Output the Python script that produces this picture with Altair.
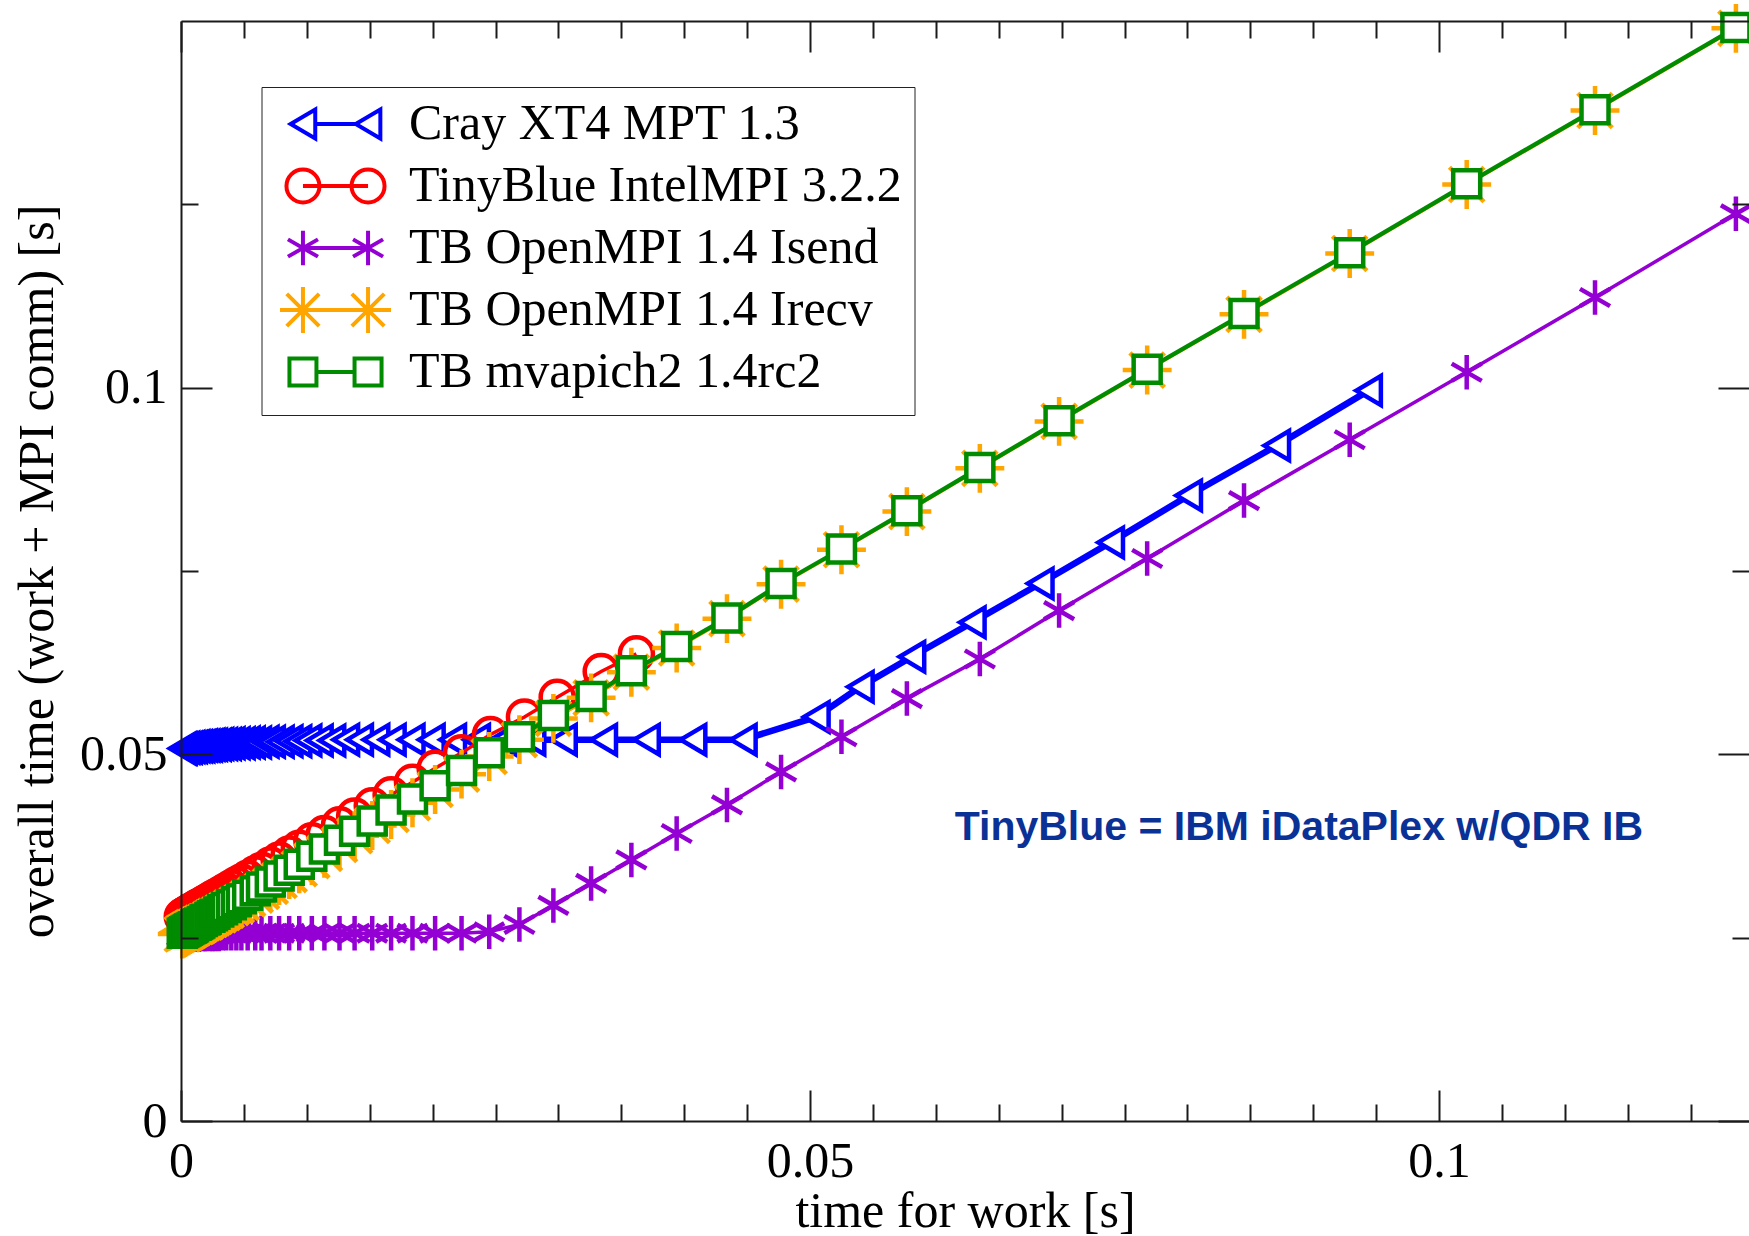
import altair as alt
import pandas as pd

# ---------------- data ----------------
series_names = [
    "Cray XT4 MPT 1.3",
    "TinyBlue IntelMPI 3.2.2",
    "TB OpenMPI 1.4 Isend",
    "TB OpenMPI 1.4 Irecv",
    "TB mvapich2 1.4rc2",
]
series_colors = ["#0000ff", "#ff0000", "#9400d3", "#ffa500", "#008b00"]

cray_x = [0.0001, 0.0002, 0.0004, 0.0006, 0.0008, 0.0010,
          0.0012, 0.0014, 0.0016, 0.0018, 0.0020, 0.0022, 0.0024, 0.0026, 0.0029, 0.0031,
          0.0034, 0.0037, 0.0040, 0.0044, 0.0048, 0.0052, 0.0056, 0.0061, 0.0067, 0.0072,
          0.0079, 0.0086, 0.0093, 0.0101, 0.0110, 0.0120, 0.0131, 0.0142, 0.0155, 0.0168,
          0.0183, 0.0199, 0.0216, 0.0235, 0.0256, 0.0279, 0.0304, 0.0336, 0.0370, 0.0407,
          0.0447, 0.0505, 0.0540, 0.0581, 0.0629, 0.0683, 0.0739, 0.0801, 0.0871, 0.0944]
cray_y = [0.0508, 0.0508, 0.0509, 0.0509, 0.0510, 0.0510,
          0.0511, 0.0511, 0.0511, 0.0512, 0.0512, 0.0512, 0.0513, 0.0513, 0.0513, 0.0514,
          0.0514, 0.0514, 0.0515, 0.0515, 0.0515, 0.0516, 0.0516, 0.0516, 0.0517, 0.0517,
          0.0517, 0.0518, 0.0518, 0.0519, 0.0519, 0.0519, 0.0520, 0.0520, 0.0520, 0.0520,
          0.0520, 0.0520, 0.0520, 0.0520, 0.0520, 0.0520, 0.0520, 0.0520, 0.0520, 0.0520,
          0.0520, 0.0551, 0.0592, 0.0633, 0.0680, 0.0733, 0.0789, 0.0853, 0.0921, 0.0996]

intel_x = [0.0001, 0.0002, 0.0003, 0.0004, 0.0005, 0.0006, 0.0007, 0.0008, 0.0009, 0.0010,
           0.0012, 0.0013, 0.0014, 0.0015, 0.0017, 0.0019, 0.0020,
           0.0023, 0.0025, 0.0027, 0.0030, 0.0033, 0.0036, 0.0040,
           0.0044, 0.0048, 0.0053, 0.0059, 0.0064, 0.0071, 0.0078, 0.0086, 0.0094, 0.0104,
           0.0114, 0.0126, 0.0138, 0.0152, 0.0167, 0.0184, 0.0202, 0.0223,
           0.0246, 0.0273, 0.0299, 0.0334, 0.0362]
intel_y = [0.0279, 0.0280, 0.0281, 0.0282, 0.0283, 0.0284, 0.0285, 0.0286, 0.0287, 0.0288,
           0.0290, 0.0291, 0.0292, 0.0293, 0.0295, 0.0297, 0.0298,
           0.0301, 0.0303, 0.0305, 0.0308, 0.0311, 0.0314, 0.0318,
           0.0322, 0.0326, 0.0331, 0.0337, 0.0342, 0.0349, 0.0356, 0.0364, 0.0372, 0.0382,
           0.0392, 0.0404, 0.0416, 0.0430, 0.0445, 0.0462, 0.0481, 0.0502,
           0.0527, 0.0551, 0.0578, 0.0613, 0.0637]

# work times shared by the three TinyBlue OpenMPI / mvapich2 runs
tb_x = [0.0001, 0.0002, 0.0003, 0.0004,
        0.0005, 0.0006, 0.0007, 0.0008, 0.0009, 0.0010,
        0.0012, 0.0013, 0.0014, 0.0015, 0.0017, 0.0019, 0.0020,
        0.0023, 0.0025, 0.0027, 0.0030, 0.0033, 0.0036, 0.0040,
        0.0044, 0.0048, 0.0053, 0.0059, 0.0064, 0.0071, 0.0078, 0.0086, 0.0094, 0.0104,
        0.0114, 0.0126, 0.0138, 0.0152, 0.0167, 0.0184, 0.0202, 0.0223, 0.0245, 0.0269,
        0.0296, 0.0326, 0.0358, 0.0394, 0.0434, 0.0477, 0.0525, 0.0577, 0.0635, 0.0698,
        0.0768, 0.0845, 0.0929, 0.1022, 0.1124, 0.1236]
isend_y = [0.0251, 0.0251, 0.0252, 0.0252,
           0.0252, 0.0253, 0.0253, 0.0253, 0.0254, 0.0254,
           0.0254, 0.0254, 0.0254, 0.0255, 0.0255, 0.0255, 0.0255,
           0.0255, 0.0255, 0.0255, 0.0255, 0.0256, 0.0256, 0.0256,
           0.0256, 0.0256, 0.0256, 0.0256, 0.0256, 0.0256, 0.0256, 0.0256, 0.0256, 0.0256,
           0.0256, 0.0256, 0.0256, 0.0256, 0.0256, 0.0256, 0.0256, 0.0256, 0.0258, 0.0268,
           0.0294, 0.0324, 0.0356, 0.0392, 0.0431, 0.0476, 0.0524, 0.0576, 0.0630, 0.0696,
           0.0767, 0.0846, 0.0929, 0.1021, 0.1123, 0.1237]
irecv_y = [0.0255, 0.0256, 0.0257, 0.0258,
           0.0259, 0.0260, 0.0261, 0.0262, 0.0263, 0.0264,
           0.0265, 0.0266, 0.0267, 0.0268, 0.0270, 0.0271, 0.0272,
           0.0275, 0.0277, 0.0279, 0.0281, 0.0284, 0.0287, 0.0291,
           0.0294, 0.0298, 0.0303, 0.0308, 0.0313, 0.0320, 0.0328, 0.0336, 0.0344, 0.0355,
           0.0365, 0.0377, 0.0389, 0.0403, 0.0418, 0.0434, 0.0452, 0.0473, 0.0497, 0.0520,
           0.0549, 0.0577, 0.0612, 0.0645, 0.0685, 0.0732, 0.0779, 0.0831, 0.0890, 0.0954,
           0.1024, 0.1100, 0.1183, 0.1277, 0.1378, 0.1490]
mvapich_y = [0.0256, 0.0257, 0.0258, 0.0259,
             0.0260, 0.0261, 0.0262, 0.0263, 0.0264, 0.0265,
             0.0267, 0.0268, 0.0269, 0.0270, 0.0272, 0.0274, 0.0275,
             0.0278, 0.0280, 0.0282, 0.0285, 0.0288, 0.0291, 0.0295,
             0.0299, 0.0303, 0.0308, 0.0314, 0.0319, 0.0326, 0.0334, 0.0342, 0.0350, 0.0361,
             0.0371, 0.0383, 0.0395, 0.0409, 0.0424, 0.0439, 0.0457, 0.0478, 0.0502, 0.0524,
             0.0553, 0.0579, 0.0614, 0.0647, 0.0686, 0.0733, 0.0780, 0.0832, 0.0891, 0.0955,
             0.1025, 0.1101, 0.1184, 0.1278, 0.1379, 0.1491]

x_major_ticks = [0, 0.05, 0.1]
x_minor_ticks = [0.005, 0.01, 0.015, 0.02, 0.025, 0.03, 0.035, 0.04, 0.045,
                 0.055, 0.06, 0.065, 0.07, 0.075, 0.08, 0.085, 0.09, 0.095,
                 0.105, 0.11, 0.115, 0.12]
y_major_ticks = [0, 0.05, 0.1]
y_minor_ticks = [0.025, 0.075, 0.125]

note_text = "TinyBlue = IBM iDataPlex w/QDR IB"
note_x = [0.0615]
note_y = [0.0399]

# ---------------- styling ----------------
SERIF = "Liberation Serif"
INK = "#1a1a1a"

xs = alt.Scale(domain=[0, 0.12464], nice=False, zero=False)
ys = alt.Scale(domain=[0, 0.15], nice=False, zero=False)

# plot markers (custom symbol paths, unit = sqrt(size)/2)
marker_paths = [
    "M-0.82,0L0.82,-0.97L0.82,0.97Z",
    "M1.1,0A1.1,1.1,0,1,1,-1.1,0A1.1,1.1,0,1,1,1.1,0Z",
    "M0,-1.15L0,1.15M-1,-0.575L1,0.575M-1,0.575L1,-0.575",
    "M0,-1.63L0,1.63M-1.63,0L1.63,0M-1.15,-1.15L1.15,1.15M-1.15,1.15L1.15,-1.15",
    "M-0.9,-0.9L0.9,-0.9L0.9,0.9L-0.9,0.9Z",
]
marker_white_fill = [True, False, False, False, True]
line_widths = [6.5, 3.5, 3.5, 3.5, 4.3]

# legend symbols: two markers joined by a line segment; the leading moveTo pair
# gives every entry the same vertical extent so rows are evenly spaced
EXT = "M0,-1.53M0,1.53"
legend_paths = [
    EXT + "M-2.99,0L-1.35,-0.97L-1.35,0.97ZM1.35,0L2.99,-0.97L2.99,0.97ZM-1.35,0L1.35,0",
    EXT + "M-1.07,0A1.1,1.1,0,1,1,-3.27,0A1.1,1.1,0,1,1,-1.07,0ZM3.27,0A1.1,1.1,0,1,1,1.07,0A1.1,1.1,0,1,1,3.27,0ZM-2.17,0L2.17,0",
    EXT + "M-2.17,-1.15L-2.17,1.15M-3.17,-0.575L-1.17,0.575M-3.17,0.575L-1.17,-0.575M2.17,-1.15L2.17,1.15M1.17,-0.575L3.17,0.575M1.17,0.575L3.17,-0.575M-2.17,0L2.17,0",
    EXT + "M-2.17,-1.53L-2.17,1.53M-3.7,0L3.7,0M-3.25,-1.08L-1.09,1.08M-3.25,1.08L-1.09,-1.08M2.17,-1.53L2.17,1.53M1.09,-1.08L3.25,1.08M1.09,1.08L3.25,-1.08",
    EXT + "M-3.07,-0.9L-1.27,-0.9L-1.27,0.9L-3.07,0.9ZM1.27,-0.9L3.07,-0.9L3.07,0.9L1.27,0.9ZM-1.27,0L1.27,0",
]

series_data = [
    (cray_x, cray_y),
    (intel_x, intel_y),
    (tb_x, isend_y),
    (tb_x, irecv_y),
    (tb_x, mvapich_y),
]

x_main = alt.X("x:Q", scale=xs, axis=alt.Axis(
    values=x_major_ticks, format="~g", ticks=False, domain=True, domainColor=INK,
    domainWidth=2, grid=False, labelFont=SERIF, labelFontSize=50, labelColor="black",
    labelPadding=15, labelFlush=False, labelOverlap=False,
    title="time for work [s]", titleFont=SERIF, titleFontSize=50,
    titleFontWeight="normal", titleColor="black", titlePadding=0, zindex=1))
y_main = alt.Y("y:Q", scale=ys, axis=alt.Axis(
    values=y_major_ticks, format="~g", ticks=False, domain=True, domainColor=INK,
    domainWidth=2, grid=False, labelFont=SERIF, labelFontSize=50, labelColor="black",
    labelPadding=14, labelFlush=False, labelOverlap=False,
    title="overall time (work + MPI comm) [s]", titleFont=SERIF, titleFontSize=50,
    titleFontWeight="normal", titleColor="black", titlePadding=17, zindex=1))
x_plain = alt.X("x:Q", scale=xs, axis=None)
y_plain = alt.Y("y:Q", scale=ys, axis=None)

layers = []
for i, name in enumerate(series_names):
    xv, yv = series_data[i]
    df = pd.DataFrame({"x": xv, "y": yv, "series": name})
    line = alt.Chart(df).mark_line(color=series_colors[i], strokeWidth=line_widths[i]).encode(
        x=x_main if i == 0 else x_plain,
        y=y_main if i == 0 else y_plain,
    )
    if marker_white_fill[i]:
        pts = alt.Chart(df).mark_point(
            shape=marker_paths[i], size=900, filled=True, fill="white",
            stroke=series_colors[i], strokeWidth=4.5, opacity=1)
    else:
        pts = alt.Chart(df).mark_point(
            shape=marker_paths[i], size=900, filled=False,
            color=series_colors[i], strokeWidth=4.5, opacity=1)
    pts = pts.encode(x=x_plain, y=y_plain)
    layers += [line, pts]

# annotation
note_df = pd.DataFrame({"x": note_x, "y": note_y, "text": [note_text]})
layers.append(alt.Chart(note_df).mark_text(
    align="left", baseline="middle", font="Liberation Sans", fontSize=41,
    fontWeight="bold", color="#0a3296").encode(x=x_plain, y=y_plain, text="text:N"))

# legend (invisible points carrying colour + shape scales)
legend_df = pd.DataFrame({
    "series": series_names,
    "x": [d[0][0] for d in series_data],
    "y": [d[1][0] for d in series_data],
})
legend_props = dict(
    title=None, orient="none", legendX=80.5, legendY=66, padding=12,
    strokeColor="#222222", fillColor="white",
    labelFont=SERIF, labelFontSize=50, labelColor="black", labelLimit=1200,
    labelOffset=48.5, symbolOffset=37, symbolSize=900, symbolStrokeWidth=4,
    symbolOpacity=1, rowPadding=0,
)
layers.append(alt.Chart(legend_df).mark_point(opacity=0, size=900, filled=False).encode(
    x=x_plain, y=y_plain,
    color=alt.Color("series:N", scale=alt.Scale(domain=series_names, range=series_colors),
                    legend=alt.Legend(**legend_props)),
    shape=alt.Shape("series:N", scale=alt.Scale(domain=series_names, range=legend_paths),
                    legend=alt.Legend(**legend_props)),
))

# inward-pointing ticks on all four sides
dummy = pd.DataFrame({"x": [0.0], "y": [0.0]})


def tick_axis(orient, vals, length):
    return alt.Axis(orient=orient, values=vals, tickSize=length, offset=-length,
                    ticks=True, labels=False, domain=False, grid=False, title="",
                    tickColor=INK, tickWidth=2, zindex=1)


for xo, yo, xv, yv, ln in [
    ("bottom", "left", x_major_ticks, y_major_ticks, 31),
    ("bottom", "left", x_minor_ticks, y_minor_ticks, 17),
    ("top", "right", x_major_ticks, y_major_ticks, 31),
    ("top", "right", x_minor_ticks, y_minor_ticks, 17),
]:
    layers.append(alt.Chart(dummy).mark_point(opacity=0).encode(
        x=alt.X("x:Q", scale=xs, axis=tick_axis(xo, xv, ln)),
        y=alt.Y("y:Q", scale=ys, axis=tick_axis(yo, yv, ln)),
    ))

# top frame line
layers.append(alt.Chart(dummy).mark_point(opacity=0).encode(
    x=alt.X("x:Q", scale=xs, axis=alt.Axis(orient="top", ticks=False, labels=False,
                                             domain=True, domainColor=INK, domainWidth=2,
                                             grid=False, title="", zindex=1)),
    y=y_plain,
))

chart = (
    alt.layer(*layers)
    .resolve_axis(x="independent", y="independent")
    .properties(
        width=1568, height=1100,
        padding={"left": 181, "top": 21, "right": 0, "bottom": 115},
        autosize=alt.AutoSizeParams(type="none"),
        background="white",
    )
    .configure_view(stroke="transparent")
)

chart.save("out.html", embed_options={"renderer": "svg", "actions": False})
